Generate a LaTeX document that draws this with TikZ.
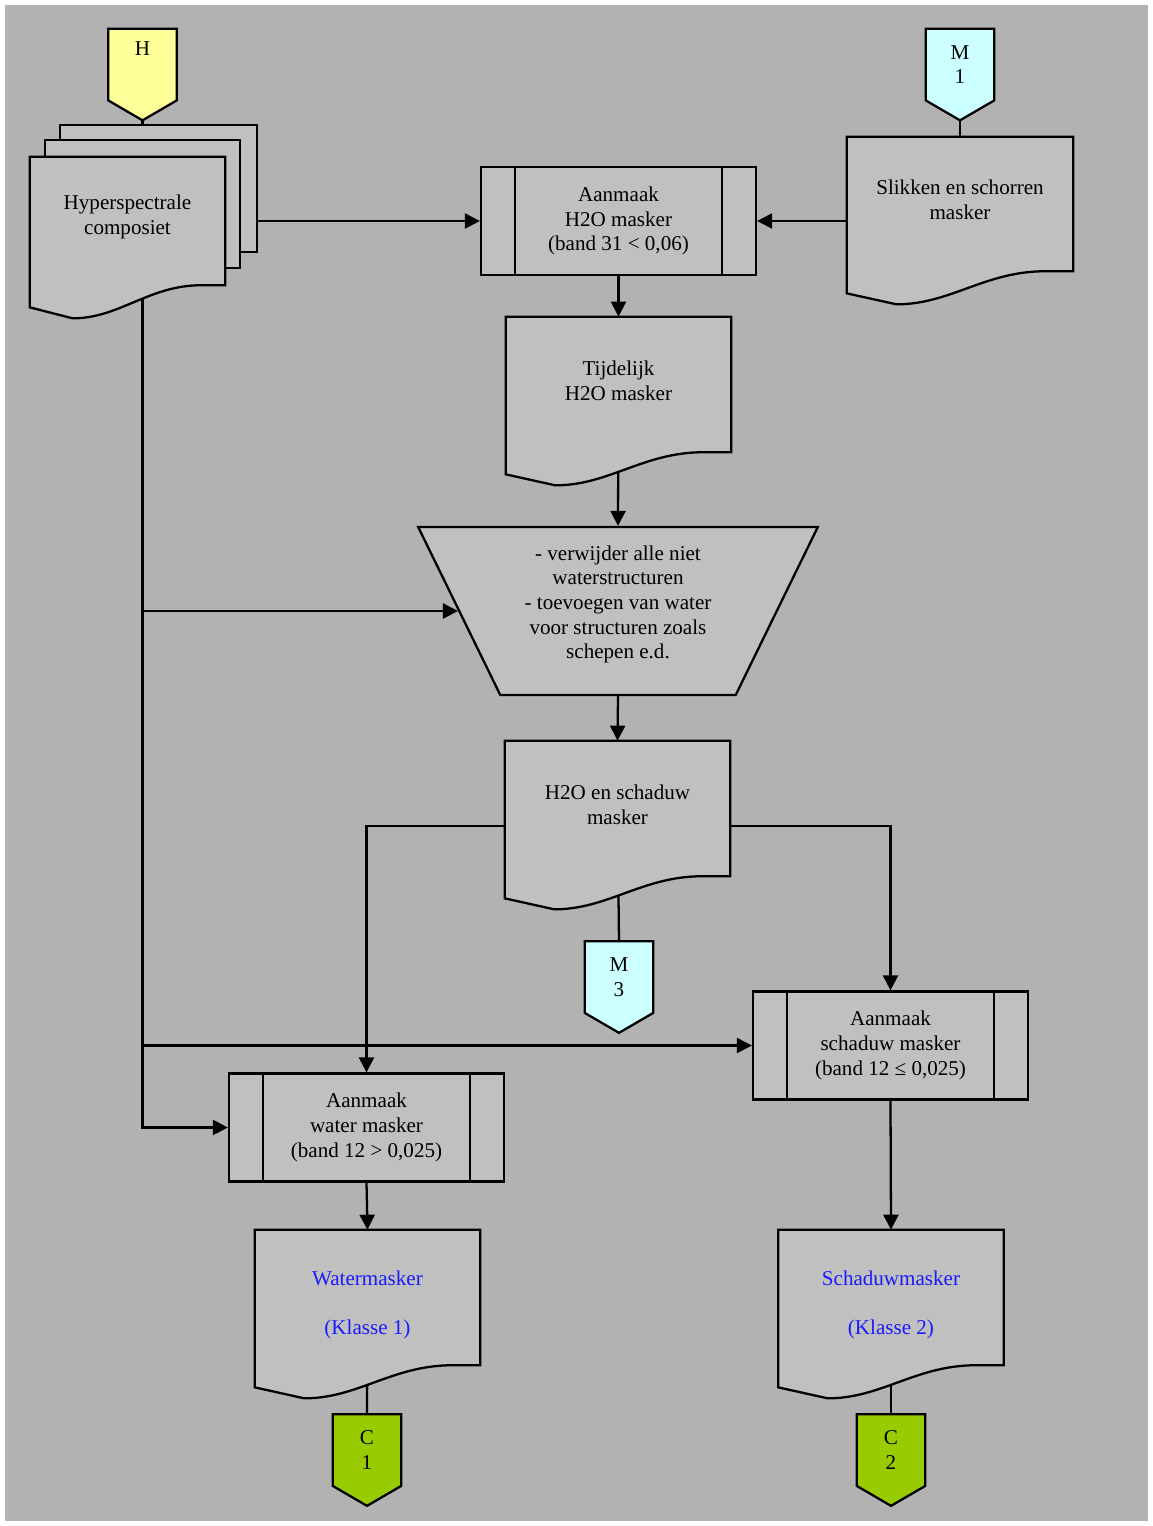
\documentclass[tikz,border=0pt]{standalone}
\usepackage{fontspec}
\setmainfont{Liberation Serif}
\usetikzlibrary{arrows.meta,calc,shapes.geometric}
\definecolor{canvasgray}{HTML}{B2B2B2}
\definecolor{shapegray}{HTML}{C0C0C0}
\definecolor{linkyellow}{HTML}{FFFF99}
\definecolor{linkcyan}{HTML}{CCFFFF}
\definecolor{linkgreen}{HTML}{99CC00}
\definecolor{labelblue}{HTML}{1A1AFF}

\pgfdeclarelayer{canvas}
\pgfdeclarelayer{wires}
\pgfdeclarelayer{outlines}
\pgfsetlayers{canvas,wires,outlines,main}

\tikzset{
  border/.style={draw=black,line width=1.3pt,line join=miter},
  textbox/.style={align=center,inner sep=0pt,font=\fontsize{12}{14}\selectfont},
  procbox/.style={border,fill=shapegray,textbox,minimum width=5.5cm,minimum height=2.16cm,
    path picture={\draw[line width=1.3pt]
      ([xshift=0.68cm]path picture bounding box.north west) -- ([xshift=0.68cm]path picture bounding box.south west)
      ([xshift=-0.68cm]path picture bounding box.north east) -- ([xshift=-0.68cm]path picture bounding box.south east);}},
  docbody/.style={textbox,minimum width=4.5cm,minimum height=2.54cm},
  pagelink/.style={textbox,minimum width=1.36cm,minimum height=1.42cm},
  wire/.style={line width=1.3pt},
  flow/.style={wire,-{Triangle[length=0.3cm,width=0.3cm]}},
}

% document outline round the body of a node
\newcommand{\docoutline}[1]{%
  \begin{pgfonlayer}{outlines}
  \draw[border,fill=shapegray] let \p1=(#1.north west), \p2=(#1.south east), \n1={\x2-\x1} in
    (\x1,\y1) -- (\x2,\y1) -- (\x2,{\y2-0.16cm}) -- ({\x1+0.85*\n1},{\y2-0.16cm})
    .. controls ({\x1+0.6*\n1},{\y2-0.2cm}) and ({\x1+0.45*\n1},{\y2-0.82cm}) .. ({\x1+0.22*\n1},{\y2-0.82cm})
    -- (\x1,{\y2-0.6cm}) -- cycle;
  \end{pgfonlayer}}

% off-page pointer round a node
\newcommand{\linkoutline}[2]{%
  \begin{pgfonlayer}{outlines}
  \draw[border,fill=#1] (#2.north west) -- (#2.north east) -- (#2.south east)
    -- ($(#2.south)+(0,20)$) -- (#2.south west) -- cycle;
  \end{pgfonlayer}}

\begin{document}
\begin{tikzpicture}[x=0.02cm,y=-0.02cm]
  \useasboundingbox (0,0) rectangle (1153,1526);
  \begin{pgfonlayer}{canvas}
    \fill[white] (0,0) rectangle (1153,1526);
    \fill[canvasgray] (5,5) rectangle (1148,1521);
  \end{pgfonlayer}

  % sources
  \node[pagelink] (hlink) at (142.5,64.5) {H\\\strut};
  \linkoutline{linkyellow}{hlink}
  \node[pagelink] (m1) at (960,64.5) {M\\1};
  \linkoutline{linkcyan}{m1}

  \node[docbody,minimum width=3.9cm,minimum height=2.4cm] (hyper) at (127.5,217) {Hyperspectrale\\composiet};
  \begin{pgfonlayer}{outlines}
    \draw[border,fill=shapegray] ($(hyper.north west)+(30,-32)$) rectangle ($(hyper.south east)+(32,-25)$);
    \draw[border,fill=shapegray] ($(hyper.north west)+(15,-17)$) rectangle ($(hyper.south east)+(15,-9)$);
  \end{pgfonlayer}
  \docoutline{hyper}

  \node[docbody,minimum width=4.52cm,minimum height=2.52cm] (slik) at (960,200) {Slikken en schorren\\masker};
  \docoutline{slik}

  % H2O masker
  \node[procbox] (box1) at (618.5,221) {Aanmaak\\H2O masker\\(band 31 < 0,06)};
  \node[docbody] (tijd) at (618.5,380.5) {Tijdelijk\\H2O masker};
  \docoutline{tijd}

  \node[trapezium,border,fill=shapegray,textbox,trapezium left angle=116.5,trapezium right angle=116.5,
    trapezium stretches=true,minimum width=8cm,minimum height=3.36cm] (trap) at (618,611)
    {- verwijder alle niet\\waterstructuren\\- toevoegen van water\\voor structuren zoals\\schepen e.d.\\[-4pt]\mbox{}};

  \node[docbody] (h2os) at (617.5,804.5) {H2O en schaduw\\masker};
  \docoutline{h2os}
  \node[pagelink] (m3) at (619,977) {M\\3};
  \linkoutline{linkcyan}{m3}

  % klassen
  \node[procbox] (schadbox) at (890.5,1045.5) {Aanmaak\\schaduw masker\\(band 12 ≤ 0,025)};
  \node[procbox] (waterbox) at (366.5,1127.5) {Aanmaak\\water masker\\(band 12 > 0,025)};

  \node[docbody,text=labelblue] (wmask) at (367.5,1293.5) {\rule{0pt}{21pt}Watermasker\\\strut\\(Klasse 1)};
  \docoutline{wmask}
  \node[docbody,text=labelblue] (smask) at (891,1293.5) {\rule{0pt}{21pt}Schaduwmasker\\\strut\\(Klasse 2)};
  \docoutline{smask}

  \node[pagelink] (c1) at (367,1450) {C\\1};
  \linkoutline{linkgreen}{c1}
  \node[pagelink] (c2) at (891,1450) {C\\2};
  \linkoutline{linkgreen}{c2}

  % connectors
  \begin{pgfonlayer}{wires}
    \draw[wire] (hlink.south) -- (hlink.south |- hyper.center);
    \draw[wire] (m1.south) -- (slik.center);
    \draw[flow] (hyper.center |- box1.west) -- (box1.west);
    \draw[flow] (slik.center |- box1.east) -- (box1.east);
    \draw[flow] (box1.south) -- (tijd.north);
    \draw[flow] (tijd.center) -- (trap.north);
    \draw[flow] (hlink.south |- trap.west) -- (trap.west);
    \draw[flow] (trap.south) -- (h2os.north);
    \draw[wire] (h2os.center) -- (m3.north);
    \draw[flow] ($(h2os.west)+(0,21.5)$) -| (waterbox.north);
    \draw[flow] ($(h2os.east)+(0,21.5)$) -| (schadbox.north);
    \draw[flow] (hlink.south |- hyper.center) |- (waterbox.west);
    \draw[flow] (hlink.south |- schadbox.west) -- (schadbox.west);
    \draw[flow] (waterbox.south) -- (wmask.north);
    \draw[flow] (schadbox.south) -- (smask.north);
    \draw[wire] (wmask.center) -- (c1.north);
    \draw[wire] (smask.center) -- (c2.north);
  \end{pgfonlayer}
\end{tikzpicture}
\end{document}
